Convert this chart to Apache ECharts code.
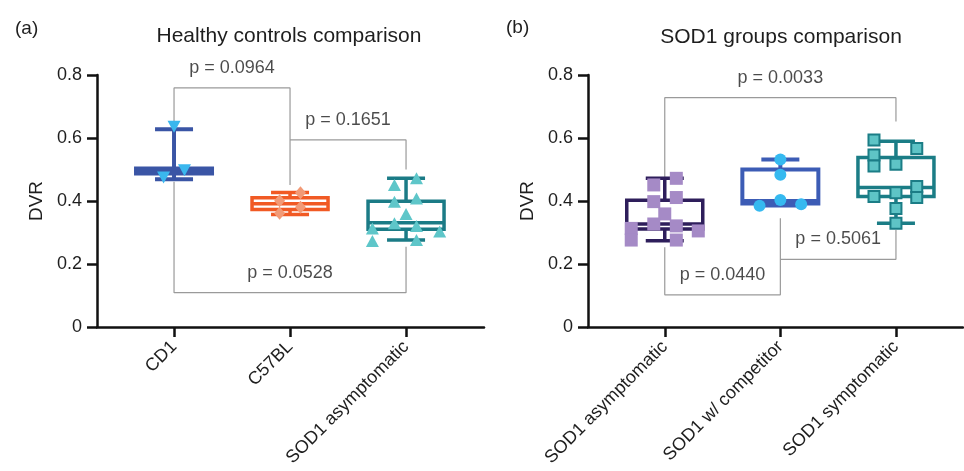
<!DOCTYPE html>
<html>
<head>
<meta charset="utf-8">
<script src="https://cdn.jsdelivr.net/npm/echarts@6/dist/echarts.min.js"></script>
<style>html,body{margin:0;padding:0;background:#fff}#c{width:964px;height:471px}</style>
</head>
<body>
<div id="c"></div>
<script>
// ---------- data ----------
const groupsA = ['CD1', 'C57BL', 'SOD1 asymptomatic'];
const groupsB = ['SOD1 asymptomatic', 'SOD1 w/ competitor', 'SOD1 symptomatic'];
const yTicks = [0, 0.2, 0.4, 0.6, 0.8];

// box stats: [min, Q1, median, Q3, max]
const boxCD1 = [0.469, 0.487, 0.495, 0.503, 0.628];
const boxC57 = [0.357, 0.373, 0.391, 0.41, 0.427];
const boxAsymA = [0.276, 0.31, 0.331, 0.399, 0.472];
const boxAsymB = [0.274, 0.311, 0.327, 0.402, 0.472];
const boxComp = [0.386, 0.392, 0.40, 0.50, 0.532];
const boxSym = [0.329, 0.414, 0.443, 0.538, 0.59];

// individual points: values and horizontal jitter (in category units)
const ptsCD1 = [0.636, 0.498, 0.475];
const jitCD1 = [0, 0.09, -0.09];
const ptsC57 = [0.426, 0.401, 0.380, 0.361];
const jitC57 = [0.09, -0.09, 0.09, -0.09];
const ptsAsymA = [0.472, 0.451, 0.398, 0.408, 0.359, 0.329, 0.321, 0.313, 0.303, 0.273, 0.276];
const jitAsymA = [0.09, -0.1, -0.1, 0.09, 0, -0.1, 0.09, -0.29, 0.29, -0.29, 0.09];
const ptsAsymB = [0.472, 0.451, 0.398, 0.411, 0.359, 0.327, 0.321, 0.313, 0.305, 0.276, 0.276];
const jitAsymB = [0.1, -0.095, -0.095, 0.1, 0, -0.095, 0.1, -0.29, 0.29, -0.29, 0.1];
const ptsComp = [0.532, 0.483, 0.403, 0.385, 0.39];
const jitComp = [0, 0, 0, -0.18, 0.18];
const ptsSym = [0.594, 0.567, 0.546, 0.511, 0.517, 0.446, 0.426, 0.414, 0.411, 0.376, 0.329];
const jitSym = [-0.19, 0.18, -0.19, -0.19, 0, 0.18, 0, -0.19, 0.18, 0, 0];

// comparison brackets: [from group, to group, bar level, left end, right end]
const bracketsA = [[1, 2, 0.759, 0.636, 0.451], [2, 3, 0.594, 0.594, 0.50], [1, 3, 0.109, 0.461, 0.255]];
const pLabelsA = ['p = 0.0964', 'p = 0.1651', 'p = 0.0528'];
const bracketsB = [[1, 3, 0.728, 0.472, 0.652], [1, 2, 0.102, 0.253, 0.345], [2, 3, 0.215, 0.215, 0.308]];
const pLabelsB = ['p = 0.0033', 'p = 0.0440', 'p = 0.5061'];

// ---------- chart ----------
const FONT = '"Liberation Sans", Arial, Helvetica, sans-serif';
const TXT = '#1e1e1e';

function boxSeries(gi, pos, stats, color, lw) {
  return {
    type: 'custom', xAxisIndex: gi, yAxisIndex: gi, z: 3, silent: true, clip: false,
    data: [[pos].concat(stats)],
    renderItem: function (params, api) {
      const x = api.value(0);
      const c = v => api.coord([x, v]);
      const bw = 76, cw = 38;
      const pMin = c(api.value(1)), pQ1 = c(api.value(2)), pMd = c(api.value(3)), pQ3 = c(api.value(4)), pMax = c(api.value(5));
      const cx = pMin[0];
      const st = { stroke: color, lineWidth: lw, fill: null };
      return {
        type: 'group',
        children: [
          { type: 'line', shape: { x1: cx, y1: pQ3[1], x2: cx, y2: pMax[1] }, style: st },
          { type: 'line', shape: { x1: cx, y1: pQ1[1], x2: cx, y2: pMin[1] }, style: st },
          { type: 'line', shape: { x1: cx - cw / 2, y1: pMax[1], x2: cx + cw / 2, y2: pMax[1] }, style: st },
          { type: 'line', shape: { x1: cx - cw / 2, y1: pMin[1], x2: cx + cw / 2, y2: pMin[1] }, style: st },
          { type: 'rect', shape: { x: cx - bw / 2, y: pQ3[1], width: bw, height: pQ1[1] - pQ3[1] }, style: { stroke: color, lineWidth: lw, fill: '#fff' } },
          { type: 'line', shape: { x1: cx - bw / 2, y1: pMd[1], x2: cx + bw / 2, y2: pMd[1] }, style: st }
        ]
      };
    }
  };
}

function pointSeries(gi, pos, vals, jit, symbol, size, color, rotate, border) {
  return {
    type: 'scatter', xAxisIndex: gi, yAxisIndex: gi, z: 5, silent: true, clip: false,
    symbol: symbol, symbolSize: size, symbolRotate: rotate || 0,
    itemStyle: { color: color, opacity: 1, borderColor: border || null, borderWidth: border ? 2 : 0 },
    data: vals.map((v, i) => [pos + jit[i], v])
  };
}

function bracketSeries(gi, brs, labels) {
  const out = [];
  brs.forEach((b, i) => {
    out.push({
      type: 'line', xAxisIndex: gi, yAxisIndex: gi, z: 1, silent: true, clip: false,
      symbol: 'none', lineStyle: { color: '#9a9a9a', width: 1.2 },
      data: [[b[0], b[3]], [b[0], b[2]], [b[1], b[2]], [b[1], b[4]]]
    });
    out.push({
      type: 'scatter', xAxisIndex: gi, yAxisIndex: gi, z: 2, silent: true, clip: false,
      symbolSize: 0,
      label: { show: true, position: 'top', distance: 11, formatter: labels[i], fontSize: 18, fontFamily: FONT, color: TXT },
      data: [[(b[0] + b[1]) / 2, b[2]]]
    });
  });
  return out;
}

function xAxisDef(gi, names, max) {
  return {
    type: 'value', gridIndex: gi, min: 0.336, max: max,
    axisLine: { show: true, lineStyle: { color: '#111', width: 2.5 } },
    axisTick: { show: true, customValues: [1, 2, 3], length: 10, lineStyle: { color: '#111', width: 2.5 } },
    axisLabel: { show: true, customValues: [1, 2, 3], rotate: 45, margin: 17, fontSize: 18, fontFamily: FONT, color: TXT,
      formatter: v => names[Math.round(v) - 1] },
    splitLine: { show: false }
  };
}

function yAxisDef(gi) {
  return {
    type: 'value', gridIndex: gi, min: yTicks[0], max: yTicks[yTicks.length - 1], interval: 0.2,
    name: 'DVR', nameLocation: 'middle', nameGap: 51, nameRotate: 90,
    nameTextStyle: { fontSize: 19, fontFamily: FONT, color: TXT },
    axisLine: { show: true, lineStyle: { color: '#111', width: 2.5 } },
    axisTick: { show: true, length: 10, lineStyle: { color: '#111', width: 2.5 } },
    axisLabel: { margin: 15, fontSize: 18, fontFamily: FONT, color: TXT,
      formatter: v => (v === 0 ? '0' : v.toFixed(1)) },
    splitLine: { show: false }
  };
}

const option = {
  animation: false,
  backgroundColor: '#fff',
  title: [
    { text: '(a)', left: 10, top: 14, textStyle: { fontSize: 19, fontWeight: 'normal', fontFamily: FONT, color: TXT } },
    { text: 'Healthy controls comparison', left: 284, top: 21, textAlign: 'center', textStyle: { fontSize: 21, fontWeight: 'normal', fontFamily: FONT, color: TXT } },
    { text: '(b)', left: 501, top: 13, textStyle: { fontSize: 19, fontWeight: 'normal', fontFamily: FONT, color: TXT } },
    { text: 'SOD1 groups comparison', left: 776, top: 22, textAlign: 'center', textStyle: { fontSize: 21, fontWeight: 'normal', fontFamily: FONT, color: TXT } }
  ],
  grid: [
    { left: 97, right: 480, top: 75, bottom: 144 },
    { left: 588, right: 1, top: 75, bottom: 144 }
  ],
  xAxis: [xAxisDef(0, groupsA, 3.672), xAxisDef(1, groupsB, 3.58)],
  yAxis: [yAxisDef(0), yAxisDef(1)],
  series: [].concat(
    bracketSeries(0, bracketsA, pLabelsA),
    bracketSeries(1, bracketsB, pLabelsB),
    [
      boxSeries(0, 1, boxCD1, '#3a55a5', 4),
      boxSeries(0, 2, boxC57, '#f15a24', 3.5),
      boxSeries(0, 3, boxAsymA, '#1b7b86', 3.5),
      boxSeries(1, 1, boxAsymB, '#2e1e5b', 3.5),
      boxSeries(1, 2, boxComp, '#3c5cb5', 4),
      boxSeries(1, 3, boxSym, '#1b7d86', 3.5),
      pointSeries(0, 1, ptsCD1, jitCD1, 'triangle', [13, 12], '#3ab7ee', 180),
      pointSeries(0, 2, ptsC57, jitC57, 'diamond', [11, 13], '#f29a76'),
      pointSeries(0, 3, ptsAsymA, jitAsymA, 'triangle', [13, 12], '#5ec6c9'),
      pointSeries(1, 1, ptsAsymB, jitAsymB, 'rect', 13, '#a58ac6'),
      pointSeries(1, 2, ptsComp, jitComp, 'circle', 12, '#35b9f0'),
      pointSeries(1, 3, ptsSym, jitSym, 'rect', 11, '#5ec4c6', 0, '#1b7d86')
    ]
  )
};

const chart = echarts.init(document.getElementById('c'), null, { renderer: 'canvas' });
chart.setOption(option);
</script>
</body>
</html>
